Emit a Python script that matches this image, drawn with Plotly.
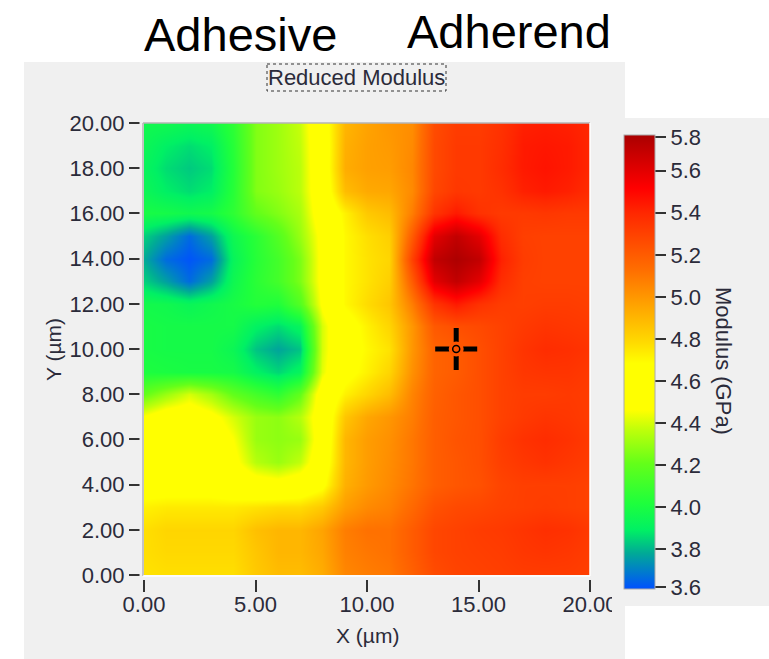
import plotly.graph_objects as go

W, H = 769, 659

x_um = list(range(0, 21))
y_um = list(range(20, -1, -1))

# Reduced modulus in GPa, top row is Y = 20, left column is X = 0
modulus_gpa = [
    [3.96,3.96,3.94,3.96,4.06,4.26,4.31,4.38,4.60,4.90,4.96,5.00,5.03,5.26,5.32,5.32,5.36,5.42,5.43,5.42,5.40],
    [3.94,3.89,3.86,3.89,4.04,4.26,4.31,4.37,4.58,4.92,4.97,4.99,5.04,5.27,5.33,5.33,5.37,5.44,5.45,5.44,5.40],
    [3.92,3.86,3.83,3.86,4.03,4.26,4.31,4.36,4.58,4.93,4.97,4.98,5.05,5.27,5.33,5.33,5.38,5.44,5.46,5.44,5.40],
    [3.94,3.89,3.86,3.89,4.04,4.26,4.30,4.36,4.57,4.88,4.94,4.95,5.04,5.28,5.34,5.33,5.36,5.42,5.44,5.42,5.38],
    [3.99,3.98,3.96,3.98,4.06,4.20,4.26,4.33,4.55,4.72,4.84,4.88,5.08,5.35,5.44,5.36,5.33,5.33,5.34,5.33,5.33],
    [3.84,3.76,3.66,3.76,3.95,4.05,4.16,4.30,4.50,4.70,4.77,4.82,5.20,5.60,5.70,5.60,5.38,5.31,5.30,5.30,5.30],
    [3.78,3.66,3.62,3.66,3.92,4.04,4.12,4.25,4.50,4.70,4.76,4.80,5.30,5.70,5.76,5.70,5.42,5.32,5.30,5.30,5.30],
    [3.84,3.76,3.66,3.76,3.95,4.05,4.12,4.25,4.50,4.70,4.76,4.82,5.20,5.60,5.70,5.60,5.38,5.31,5.30,5.30,5.30],
    [3.97,3.96,3.93,3.96,3.99,4.03,4.02,4.16,4.48,4.70,4.78,4.85,5.08,5.35,5.44,5.36,5.32,5.31,5.32,5.32,5.31],
    [3.99,3.98,3.98,3.98,3.98,3.90,3.86,3.92,4.40,4.62,4.72,4.80,5.00,5.21,5.25,5.27,5.30,5.33,5.35,5.34,5.33],
    [3.99,3.98,3.98,3.98,3.94,3.82,3.77,3.82,4.40,4.62,4.70,4.76,5.00,5.17,5.20,5.25,5.30,5.35,5.38,5.37,5.35],
    [4.01,4.00,3.99,3.99,3.98,3.90,3.85,3.92,4.42,4.64,4.72,4.80,5.02,5.17,5.20,5.25,5.30,5.34,5.35,5.35,5.33],
    [4.20,4.30,4.40,4.32,4.20,4.12,4.06,4.20,4.55,4.72,4.80,4.88,5.06,5.18,5.22,5.25,5.30,5.32,5.32,5.33,5.32],
    [4.47,4.55,4.56,4.50,4.40,4.30,4.28,4.35,4.55,4.85,4.95,5.00,5.08,5.19,5.22,5.25,5.30,5.33,5.35,5.34,5.32],
    [4.55,4.56,4.56,4.56,4.46,4.30,4.28,4.30,4.55,4.90,4.98,5.02,5.10,5.19,5.23,5.25,5.32,5.36,5.38,5.36,5.33],
    [4.57,4.57,4.57,4.57,4.50,4.35,4.30,4.37,4.58,4.90,4.98,5.03,5.10,5.19,5.22,5.25,5.31,5.34,5.36,5.34,5.32],
    [4.62,4.62,4.62,4.62,4.58,4.54,4.52,4.56,4.65,4.92,4.99,5.04,5.11,5.19,5.22,5.24,5.29,5.31,5.31,5.31,5.30],
    [4.72,4.74,4.74,4.74,4.74,4.76,4.78,4.78,4.84,4.98,5.04,5.07,5.15,5.24,5.27,5.28,5.30,5.31,5.32,5.31,5.30],
    [4.77,4.80,4.80,4.80,4.80,4.87,4.90,4.90,4.96,5.08,5.12,5.12,5.20,5.28,5.30,5.32,5.33,5.35,5.37,5.36,5.33],
    [4.77,4.79,4.79,4.79,4.79,4.85,4.90,4.90,4.95,5.07,5.10,5.12,5.20,5.28,5.30,5.31,5.32,5.34,5.35,5.34,5.32],
    [4.76,4.77,4.77,4.77,4.77,4.84,4.88,4.88,4.93,5.05,5.08,5.10,5.18,5.26,5.29,5.30,5.31,5.32,5.32,5.32,5.31],
]

x_ticks = [0, 5, 10, 15, 20]
y_ticks = [0, 2, 4, 6, 8, 10, 12, 14, 16, 18, 20]
bar_ticks = [3.62, 3.8, 4.0, 4.2, 4.4, 4.6, 4.8, 5.0, 5.2, 5.4, 5.6, 5.76]
bar_labels = ["3.6", "3.8", "4.0", "4.2", "4.4", "4.6", "4.8", "5.0", "5.2", "5.4", "5.6", "5.8"]
cursor_x = [14]
cursor_y = [10]

colorscale = [
    [0.000, "rgb(0,80,255)"],
    [0.079, "rgb(0,170,150)"],
    [0.130, "rgb(0,240,100)"],
    [0.189, "rgb(30,255,60)"],
    [0.277, "rgb(100,255,25)"],
    [0.350, "rgb(190,255,10)"],
    [0.394, "rgb(255,255,0)"],
    [0.497, "rgb(255,255,0)"],
    [0.541, "rgb(255,220,0)"],
    [0.615, "rgb(255,170,0)"],
    [0.703, "rgb(255,110,0)"],
    [0.827, "rgb(255,40,0)"],
    [0.883, "rgb(255,0,0)"],
    [1.000, "rgb(170,0,0)"],
]

FONT = "Liberation Sans"
INK = "#2b2b3a"
PANEL = "#f0f0f0"

def px(v):
    return v / W

def py(v):
    return 1 - v / H

fig = go.Figure()
fig.add_trace(go.Heatmap(
    x=x_um, y=y_um, z=modulus_gpa, zsmooth="best",
    colorscale=colorscale, zmin=3.61, zmax=5.77,
    hoverinfo="skip",
    colorbar=dict(
        x=px(624), xanchor="left", xpad=0, ypad=0,
        y=py(589), yanchor="bottom", lenmode="pixels", len=454,
        thicknessmode="pixels", thickness=31,
        outlinewidth=1, outlinecolor="#aaaaaa",
        tickmode="array", tickvals=bar_ticks, ticktext=bar_labels,
        ticks="outside", ticklen=11, tickwidth=1.5, tickcolor="#333333",
        tickfont=dict(family=FONT, size=22, color=INK),
    ),
))
fig.add_trace(go.Scatter(x=cursor_x, y=cursor_y, mode="markers", showlegend=False, hoverinfo="skip",
                         marker=dict(symbol="cross-thin", size=30, line=dict(width=5, color="black"))))
fig.add_trace(go.Scatter(x=cursor_x, y=cursor_y, mode="markers", showlegend=False, hoverinfo="skip",
                         marker=dict(symbol="circle", size=15, color="rgb(255,85,0)")))
fig.add_trace(go.Scatter(x=cursor_x, y=cursor_y, mode="markers", showlegend=False, hoverinfo="skip",
                         marker=dict(symbol="circle-open", size=7, color="black", line=dict(width=1.5, color="black"))))

axis_common = dict(
    tickformat=".2f", ticks="outside", tickwidth=1.5, tickcolor="#333333",
    showgrid=False, zeroline=False, showline=False,
    tickfont=dict(family=FONT, size=22, color=INK),
)

def rect(x0, y0, x1, y1, **kw):
    return dict(type="rect", xref="paper", yref="paper",
                x0=px(x0), x1=px(x1), y0=py(y0), y1=py(y1), **kw)

def seg(x0, y0, x1, y1, color, width=1.5):
    return dict(type="line", xref="paper", yref="paper", layer="above",
                x0=px(x0), x1=px(x1), y0=py(y0), y1=py(y1), line=dict(color=color, width=width))

shapes = [
    rect(24, 62, 625, 659, fillcolor=PANEL, line_width=0, layer="below"),
    rect(625, 118, 769, 606, fillcolor=PANEL, line_width=0, layer="below"),
    rect(612, 585, 623, 615, fillcolor=PANEL, line_width=0, layer="above"),
    rect(139.5, 118, 143, 582, fillcolor=PANEL, line_width=0, layer="above"),
    rect(139.5, 576, 596, 580, fillcolor=PANEL, line_width=0, layer="above"),
    rect(267, 64, 446, 91, line=dict(color="#333333", width=1, dash="dot"), layer="above"),
    seg(143, 123, 590, 123, "#b5b5b5"),
    seg(143, 123, 143, 576, "#b5b5b5"),
    seg(590, 123, 590, 576, "#ffffff"),
    seg(143, 576, 590, 576, "#ffffff"),
]

def label(text, x, y, size, color=INK, angle=0):
    return dict(text=text, x=px(x), y=py(y), xref="paper", yref="paper", showarrow=False,
                xanchor="center", yanchor="middle", textangle=angle,
                font=dict(family=FONT, size=size, color=color))

annotations = [
    label("Adhesive", 240, 35, 47, "black"),
    label("Adherend", 509, 32, 47, "black"),
    label("Reduced Modulus", 356, 78, 22),
    label("X (µm)", 367, 635, 21),
    label("Y (µm)", 53, 349, 21, angle=-90),
    label("Modulus (GPa)", 723, 361, 22, angle=90),
]

fig.update_layout(
    width=W, height=H, margin=dict(l=0, r=0, t=0, b=0, autoexpand=False),
    paper_bgcolor="white", plot_bgcolor="rgba(0,0,0,0)", showlegend=False,
    xaxis=dict(domain=[px(144), px(590)], range=[0, 20], tickvals=x_ticks, ticklen=16,
               ticklabelstandoff=-6, **axis_common),
    yaxis=dict(domain=[py(575), py(123)], range=[0, 20], tickvals=y_ticks, ticklen=14, **axis_common),
    shapes=shapes, annotations=annotations,
)

fig.write_html("out.html", config=dict(displayModeBar=False),
               post_script="document.body.style.margin='0';")
